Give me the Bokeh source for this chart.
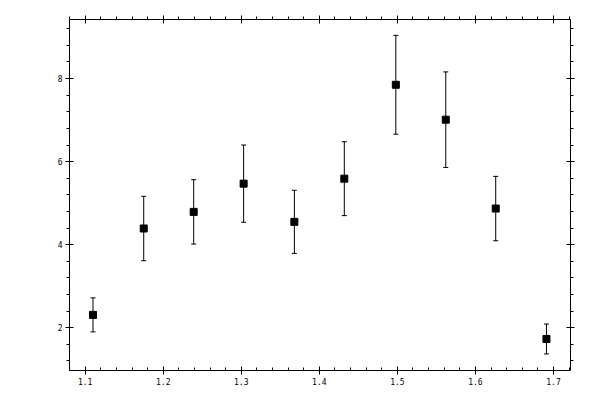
from bokeh.plotting import figure
from bokeh.models import (ColumnDataSource, Whisker, TeeHead, LinearAxis, Range1d,
                          FixedTicker, CustomJSTickFormatter)
from bokeh.embed import file_html
from bokeh.resources import INLINE

# data
x_vals = [1.110, 1.175, 1.239, 1.303, 1.368, 1.432, 1.498, 1.562, 1.626, 1.691]
y_vals = [2.31, 4.39, 4.79, 5.47, 4.55, 5.59, 7.85, 7.01, 4.87, 1.73]
y_err = [0.41, 0.775, 0.775, 0.93, 0.76, 0.89, 1.19, 1.15, 0.775, 0.36]

x_major = [1.1, 1.2, 1.3, 1.4, 1.5, 1.6, 1.7]
x_minor = [round(1.08 + 0.02 * i, 2) for i in range(33)]
y_major = [2, 4, 6, 8]
y_minor = [round(0.8 + 0.4 * i, 1) for i in range(23)]

src = ColumnDataSource(dict(
    x=x_vals, y=y_vals,
    upper=[a + b for a, b in zip(y_vals, y_err)],
    lower=[a - b for a, b in zip(y_vals, y_err)],
))

W, H = 592, 392
p = figure(width=W, height=H, output_backend="svg", toolbar_location=None,
           x_range=Range1d(1.0799, 1.7218), y_range=Range1d(0.971, 9.422),
           x_axis_location=None, y_axis_location=None)
p.min_border_left = 69
p.min_border_right = 22
p.min_border_top = 19
p.min_border_bottom = 22
p.frame_width = 501
p.frame_height = 351
p.outline_line_color = None
p.xgrid.visible = False
p.ygrid.visible = False
p.background_fill_color = "white"
p.border_fill_color = "white"

FONT = "DejaVu Sans Mono"


def style(ax, labels=True, minor_in=0, minor_out=3):
    ax.axis_line_color = "black"
    ax.axis_line_width = 1
    ax.major_tick_line_color = "black"
    ax.minor_tick_line_color = "black"
    ax.major_tick_in = 4
    ax.major_tick_out = 4
    ax.minor_tick_in = minor_in
    ax.minor_tick_out = minor_out
    ax.major_label_text_font = FONT
    ax.major_label_text_color = "black"
    ax.major_label_text_font_size = "8px"
    if labels:
        ax.major_label_standoff = 3
    else:
        ax.formatter = CustomJSTickFormatter(code="return ''")
        ax.major_label_standoff = 0


xt = FixedTicker(ticks=x_major, minor_ticks=x_minor)
yt = FixedTicker(ticks=y_major, minor_ticks=y_minor)

bottom = LinearAxis(ticker=xt)
style(bottom, True, minor_in=3, minor_out=0)
top = LinearAxis(ticker=xt)
style(top, False, minor_in=0, minor_out=3)
left = LinearAxis(ticker=yt)
style(left, True, minor_in=0, minor_out=3)
right = LinearAxis(ticker=yt)
style(right, False, minor_in=0, minor_out=3)

p.add_layout(bottom, "below")
p.add_layout(top, "above")
p.add_layout(left, "left")
p.add_layout(right, "right")

p.add_layout(Whisker(base="x", upper="upper", lower="lower", source=src,
                     line_color="black", line_width=1,
                     upper_head=TeeHead(size=5, line_color="black", line_width=1),
                     lower_head=TeeHead(size=5, line_color="black", line_width=1)))
p.scatter("x", "y", source=src, marker="square", size=7,
          fill_color="black", line_color="black")

open("out.html", "w").write(file_html(p, INLINE))
